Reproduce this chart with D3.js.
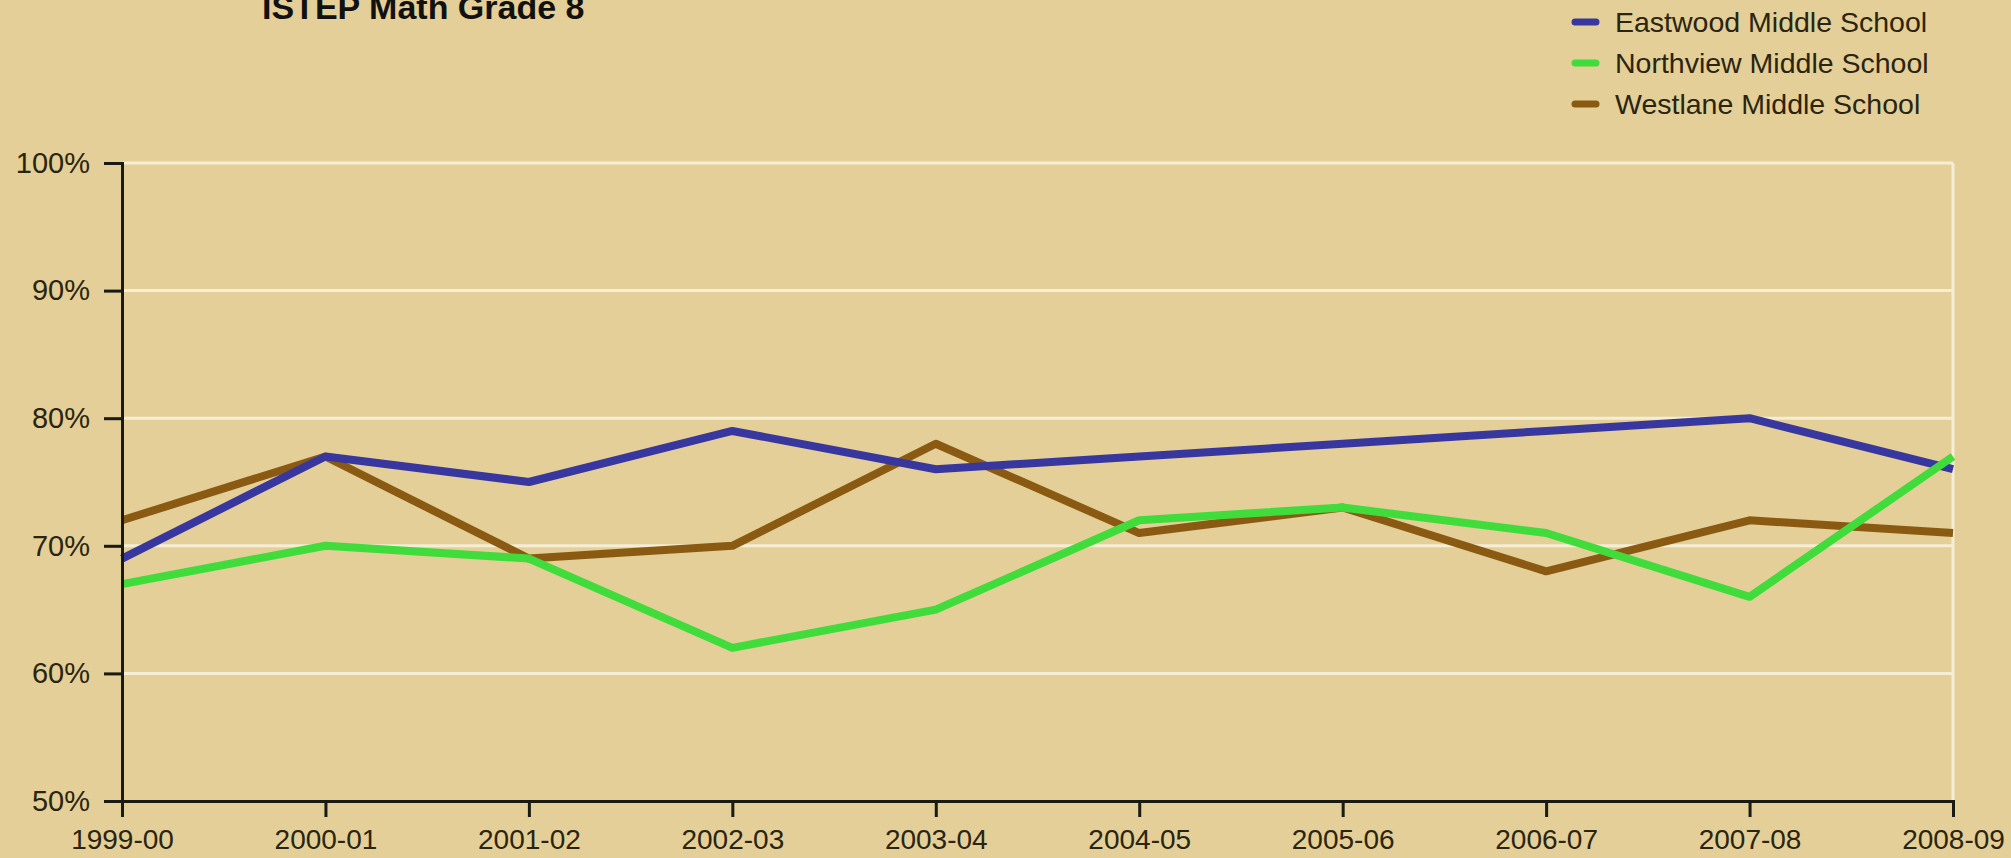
<!DOCTYPE html>
<html>
<head>
<meta charset="utf-8">
<script src="https://d3js.org/d3.v7.min.js"></script>
<style>
  html, body { margin: 0; padding: 0; background: #e3cf97; overflow: hidden; }
  text { font-family: "Liberation Sans", Arial, sans-serif; fill: #2a2410; }
</style>
</head>
<body>
<script>
// data
var years = ['1999-00', '2000-01', '2001-02', '2002-03', '2003-04', '2004-05', '2005-06', '2006-07', '2007-08', '2008-09'];
var eastwood = [69, 77, 75, 79, 76, 77, 78, 79, 80, 76];
var northview = [67, 70, 69, 62, 65, 72, 73, 71, 66, 77];
var westlane = [72, 77, 69, 70, 78, 71, 73, 68, 72, 71];
var yTicks = [50, 60, 70, 80, 90, 100];

var series = [
  {name: 'Eastwood Middle School', values: eastwood, color: '#38379f', order: 1},
  {name: 'Northview Middle School', values: northview, color: '#40dc3c', order: 2},
  {name: 'Westlane Middle School', values: westlane, color: '#8a5a12', order: 0}
];

var w = 2011, h = 858;
// plot box (window.top is read-only, so no "top" here)
var plotLeft = 122, plotRight = 1953, plotTop = 163, plotBottom = 801;

var svg = d3.select('body').append('svg')
  .attr('width', w)
  .attr('height', h);

var x = d3.scalePoint().domain(years).range([plotLeft, plotRight]);
var y = d3.scaleLinear().domain([50, 100]).range([plotBottom, plotTop]);

// title (cut at the top edge, as in the original)
svg.append('text')
  .attr('x', 262)
  .attr('y', 19)
  .style('font-size', '34px')
  .style('font-weight', 'bold')
  .style('fill', '#111')
  .text('ISTEP Math Grade 8');

// gridlines
svg.append('g').selectAll('line')
  .data(yTicks.filter(function(d) { return d > 50; }))
  .enter().append('line')
  .attr('x1', plotLeft).attr('x2', plotRight)
  .attr('y1', function(d) { return y(d); })
  .attr('y2', function(d) { return y(d); })
  .style('stroke', '#f5eed6')
  .style('stroke-width', 3);

svg.append('line')
  .attr('x1', plotRight).attr('x2', plotRight)
  .attr('y1', plotTop).attr('y2', plotBottom)
  .style('stroke', '#f5eed6')
  .style('stroke-width', 3);

// lines
var line = d3.line()
  .x(function(d, i) { return x(years[i]); })
  .y(function(d) { return y(d); });

svg.append('g').selectAll('path')
  .data(series.slice().sort(function(a, b) { return a.order - b.order; }))
  .enter().append('path')
  .attr('d', function(d) { return line(d.values); })
  .style('fill', 'none')
  .style('stroke', function(d) { return d.color; })
  .style('stroke-width', 8)
  .style('stroke-linejoin', 'round');

// axes
var yAxis = svg.append('g')
  .attr('transform', 'translate(' + plotLeft + ',0)')
  .call(d3.axisLeft(y).tickValues(yTicks).tickSize(18).tickPadding(14)
    .tickFormat(function(d) { return d + '%'; }));

var xAxis = svg.append('g')
  .attr('transform', 'translate(0,' + plotBottom + ')')
  .call(d3.axisBottom(x).tickSize(16).tickPadding(12));

[yAxis, xAxis].forEach(function(g) {
  g.select('.domain').style('stroke', '#1a1a14').style('stroke-width', 3);
  g.selectAll('.tick line').style('stroke', '#1a1a14').style('stroke-width', 3);
  g.selectAll('text').style('fill', '#2a2410').attr('fill', null);
});
yAxis.selectAll('text').style('font-size', '29px');
xAxis.selectAll('text').style('font-size', '28px');

// legend
var legend = svg.append('g').selectAll('g')
  .data(series)
  .enter().append('g')
  .attr('transform', function(d, i) { return 'translate(1572,' + (22 + i * 41) + ')'; });

legend.append('line')
  .attr('x1', 3).attr('x2', 24)
  .style('stroke', function(d) { return d.color; })
  .style('stroke-width', 7)
  .style('stroke-linecap', 'round');

legend.append('text')
  .attr('x', 43)
  .attr('dy', '0.36em')
  .style('font-size', '28.5px')
  .text(function(d) { return d.name; });
</script>
</body>
</html>
